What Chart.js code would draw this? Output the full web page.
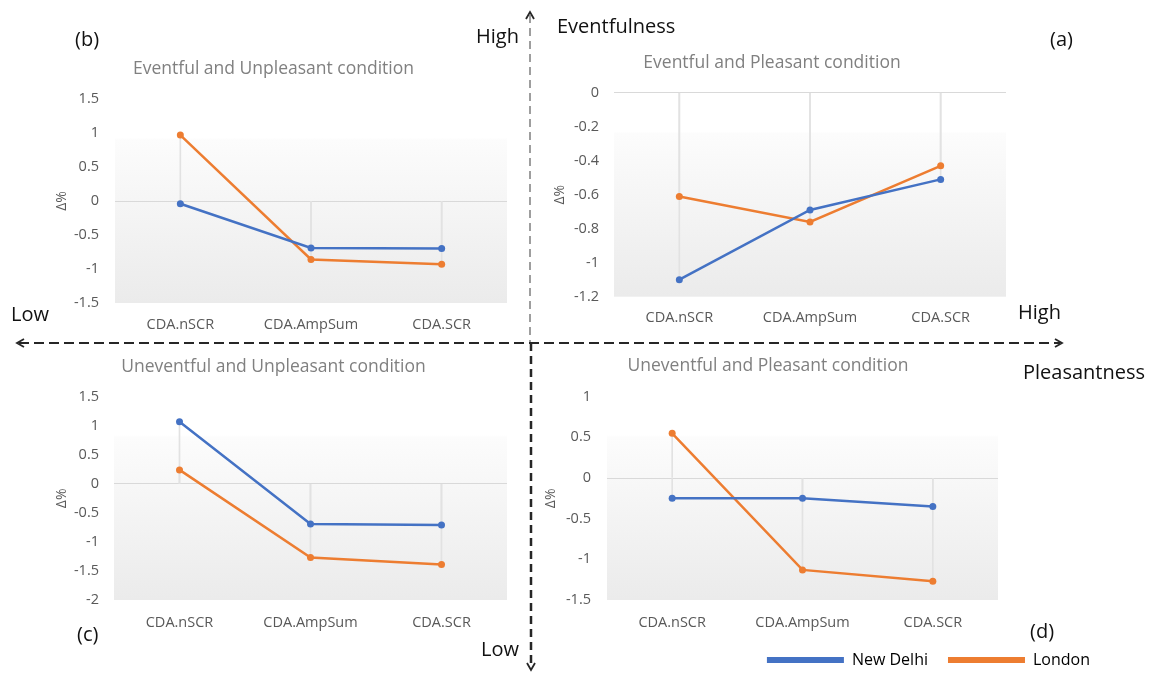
<!DOCTYPE html>
<html>
<head>
<meta charset="utf-8">
<script src="https://cdn.jsdelivr.net/npm/chart.js@4"></script>
<style>
    body { margin: 0; background: #fff; font-family: 'Open Sans', sans-serif; }
    #figure { position: relative; width: 1157px; height: 675px; overflow: hidden; }
    canvas { position: absolute; }
    .label { position: absolute; font-size: 20px; color: #111; line-height: 1; white-space: nowrap; z-index: 3; }
    svg { position: absolute; left: 0; top: 0; z-index: 2; }
</style>
</head>
<body>
<div id="figure">
    <canvas id="panel-a" width="498" height="297" style="left:523px;top:40px"></canvas>
    <canvas id="panel-b" width="483" height="297" style="left:32px;top:40px"></canvas>
    <canvas id="panel-c" width="483" height="297" style="left:32px;top:345px"></canvas>
    <canvas id="panel-d" width="587" height="333" style="left:523px;top:345px"></canvas>

    <svg width="1157" height="675">
        <line x1="530" y1="15" x2="530" y2="343" stroke="#7f7f7f" stroke-width="1.5" stroke-dasharray="8 5" />
        <line x1="531" y1="343" x2="531" y2="667" stroke="#262626" stroke-width="2.5" stroke-dasharray="8 5" />
        <line x1="19" y1="343" x2="1060" y2="343" stroke="#262626" stroke-width="2" stroke-dasharray="10 5" />
        <polyline points="526,19 530,12 534,19" fill="none" stroke="#262626" stroke-width="1.8" />
        <polyline points="24,339 17,343 24,347" fill="none" stroke="#262626" stroke-width="1.8" />
        <polyline points="1055,339 1062,343 1055,347" fill="none" stroke="#262626" stroke-width="1.8" />
        <polyline points="527,663 531,670 535,663" fill="none" stroke="#262626" stroke-width="1.8" />
    </svg>

    <div class="label" style="left:75px;top:29px">(b)</div>
    <div class="label" style="left:476px;top:26px">High</div>
    <div class="label" style="left:557px;top:16px">Eventfulness</div>
    <div class="label" style="left:1050px;top:29px">(a)</div>
    <div class="label" style="left:11px;top:304px">Low</div>
    <div class="label" style="left:1018px;top:302px">High</div>
    <div class="label" style="left:1023px;top:362px">Pleasantness</div>
    <div class="label" style="left:77px;top:624px">(c)</div>
    <div class="label" style="left:481px;top:639px">Low</div>
    <div class="label" style="left:1030px;top:621px">(d)</div>
</div>

<script>
const categories = ['CDA.nSCR', 'CDA.AmpSum', 'CDA.SCR']
const cities = ['New Delhi', 'London']
const cityColors = ['#4472C4', '#ED7D31']

// (a) Eventful and Pleasant
const eventfulPleasantDelhi = [-1.1, -0.69, -0.51]
const eventfulPleasantLondon = [-0.61, -0.76, -0.43]
// (b) Eventful and Unpleasant
const eventfulUnpleasantDelhi = [-0.04, -0.69, -0.70]
const eventfulUnpleasantLondon = [0.97, -0.86, -0.93]
// (c) Uneventful and Unpleasant
const uneventfulUnpleasantDelhi = [1.07, -0.69, -0.71]
const uneventfulUnpleasantLondon = [0.24, -1.27, -1.39]
// (d) Uneventful and Pleasant
const uneventfulPleasantDelhi = [-0.25, -0.25, -0.35]
const uneventfulPleasantLondon = [0.55, -1.13, -1.27]

Chart.defaults.font.family = "'Open Sans', sans-serif"
Chart.defaults.animation = false

// Excel-like plot area fill, white at the top fading to light grey
const plotFill = {
    id: 'plotFill',
    beforeDraw(chart) {
        const { ctx, chartArea: a } = chart
        const g = ctx.createLinearGradient(0, a.top, 0, a.bottom)
        g.addColorStop(0, '#ffffff')
        g.addColorStop(0.19, '#ffffff')
        g.addColorStop(0.2, '#fcfcfc')
        g.addColorStop(1, '#ebebeb')
        ctx.save()
        ctx.fillStyle = g
        ctx.fillRect(a.left, a.top, a.right - a.left, a.bottom - a.top)
        ctx.restore()
    }
}

// the legend of panel (d) needs a wider canvas, keep its title centred on the panel itself
const titleSpan = {
    id: 'titleSpan',
    afterLayout(chart, args, opts) {
        if (opts.right) {
            chart.titleBlock.right = opts.right
            chart.titleBlock.width = opts.right - chart.titleBlock.left
        }
    }
}

function dropLines(values) {
    return {
        type: 'bar',
        data: values.map(v => [0, v]),
        backgroundColor: '#e2e2e2',
        barThickness: 1,
        grouped: false,
        order: 3
    }
}

function citySeries(i, values) {
    return {
        type: 'line',
        label: cities[i],
        data: values,
        borderColor: cityColors[i],
        backgroundColor: cityColors[i],
        borderWidth: 2.5,
        pointRadius: 3.5,
        pointBorderWidth: 0,
        pointBackgroundColor: cityColors[i],
        tension: 0,
        order: 1
    }
}

function drawPanel(id, title, delhi, london, yMin, yMax, yStep, box) {
    const ctx = document.getElementById(id).getContext('2d')
    return new Chart(ctx, {
        data: {
            labels: categories,
            datasets: [
                dropLines(delhi),
                dropLines(london),
                citySeries(0, delhi),
                citySeries(1, london)
            ]
        },
        options: {
            responsive: false,
            devicePixelRatio: 1,
            layout: { padding: 0 },
            plugins: {
                titleSpan: { right: box.titleRight || 0 },
                title: {
                    display: true,
                    text: title,
                    color: '#808080',
                    font: { size: 17.5, weight: 'normal' },
                    padding: { top: box.titleTop, bottom: box.titleBottom }
                },
                legend: {
                    display: !!box.legend,
                    position: 'bottom',
                    align: 'end',
                    labels: {
                        boxWidth: 77,
                        boxHeight: 6,
                        padding: 20,
                        color: '#404040',
                        font: { size: 16 },
                        generateLabels: () => cities.map((name, i) => ({
                            text: name,
                            fillStyle: cityColors[i],
                            strokeStyle: cityColors[i],
                            lineWidth: 0,
                            hidden: false,
                            datasetIndex: i + 2
                        }))
                    }
                },
                tooltip: { enabled: false }
            },
            scales: {
                x: {
                    offset: true,
                    grid: { display: false, drawTicks: false },
                    border: { display: false },
                    ticks: { color: '#595959', font: { size: 14.5 }, padding: box.xPad },
                    afterFit: s => { s.height = box.xHeight }
                },
                y: {
                    min: yMin,
                    max: yMax,
                    grid: {
                        drawTicks: false,
                        color: c => (c.tick && Math.abs(c.tick.value) < 1e-9) ? '#d9d9d9' : 'rgba(0,0,0,0)'
                    },
                    border: { display: false },
                    ticks: {
                        stepSize: yStep,
                        color: '#595959',
                        font: { size: 14.5 },
                        padding: box.yPad,
                        callback: v => String(Number(v.toFixed(1)))
                    },
                    title: {
                        display: true,
                        text: 'Δ%',
                        color: '#595959',
                        font: { size: 14 },
                        padding: { top: box.yTitle - 8.4, bottom: 0 }
                    },
                    afterFit: s => { s.width = box.yWidth }
                },
                pad: {
                    axis: 'y',
                    position: 'right',
                    display: true,
                    grid: { display: false, drawTicks: false },
                    border: { display: false },
                    ticks: { display: false },
                    afterFit: s => { s.width = box.right }
                }
            }
        },
        plugins: [plotFill, titleSpan]
    })
}

drawPanel('panel-a', 'Eventful and Pleasant condition',
    eventfulPleasantDelhi, eventfulPleasantLondon, -1.2, 0, 0.2,
    { titleTop: 12.5, titleBottom: 19.2, xHeight: 40.3, xPad: 12.3, yWidth: 91, yPad: 15, yTitle: 37, right: 15 })

drawPanel('panel-b', 'Eventful and Unpleasant condition',
    eventfulUnpleasantDelhi, eventfulUnpleasantLondon, -1.5, 1.5, 0.5,
    { titleTop: 18.5, titleBottom: 19.5, xHeight: 34, xPad: 13.3, yWidth: 83, yPad: 16, yTitle: 30, right: 8 })

drawPanel('panel-c', 'Uneventful and Unpleasant condition',
    uneventfulUnpleasantDelhi, uneventfulUnpleasantLondon, -2, 1.5, 0.5,
    { titleTop: 11.5, titleBottom: 19.2, xHeight: 42, xPad: 14.3, yWidth: 82, yPad: 15, yTitle: 30, right: 8 })

drawPanel('panel-d', 'Uneventful and Pleasant condition',
    uneventfulPleasantDelhi, uneventfulPleasantLondon, -1.5, 1, 0.5,
    { titleTop: 10.5, titleBottom: 20.2, xHeight: 32, xPad: 14.3, yWidth: 84, yPad: 16, yTitle: 28, right: 112, titleRight: 490, legend: true })
</script>
</body>
</html>
